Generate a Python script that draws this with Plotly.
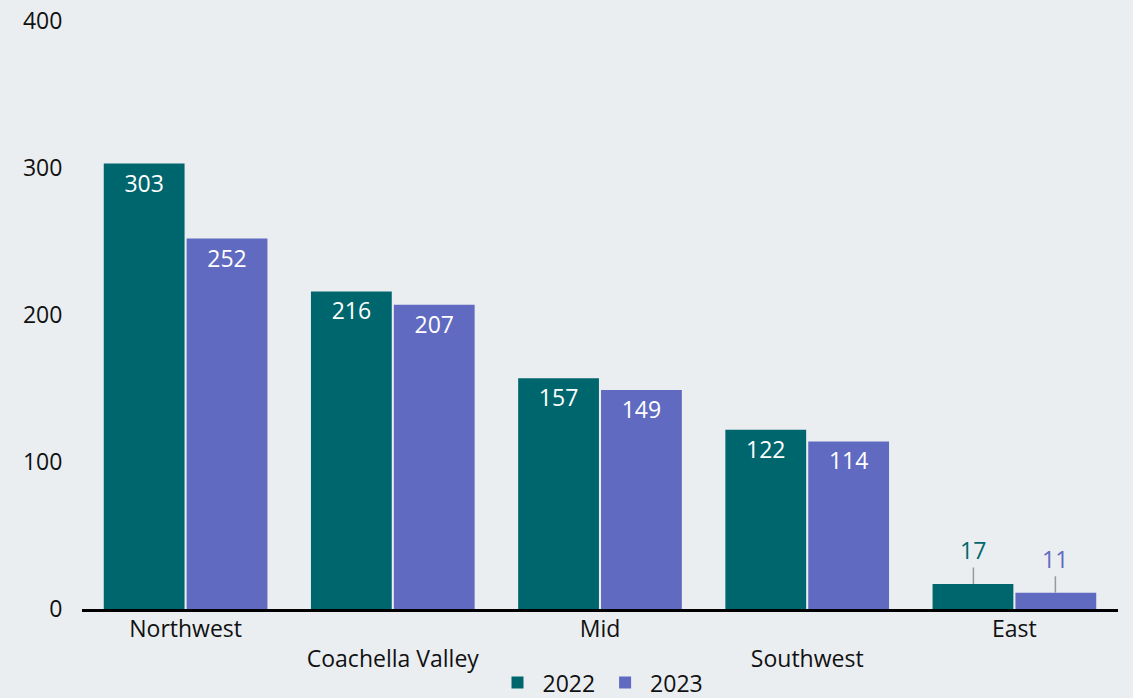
import plotly.graph_objects as go

regions = ["Northwest", "Coachella Valley", "Mid", "Southwest", "East"]
values_2022 = [303, 216, 157, 122, 17]
values_2023 = [252, 207, 149, 114, 11]
series_names = ["2022", "2023"]
y_ticks = [0, 100, 200, 300, 400]

colors = ["#00666e", "#5f6ac0"]
bg = "#eaeef1"
font_family = "Open Sans, Lato, sans-serif"
FS = 23
SMALL = 40  # values below this get an outside leader-line label

# staggered category labels: every second label on a second line
tick_text = [r if i % 2 == 0 else "<br>" + r for i, r in enumerate(regions)]

fig = go.Figure()
for name, vals, col in zip(series_names, [values_2022, values_2023], colors):
    fig.add_trace(go.Bar(
        x=regions, y=vals, name=name, marker=dict(color=col, line=dict(width=0)),
        text=[str(v) if v >= SMALL else "" for v in vals],
        textposition="inside", insidetextanchor="end",
        insidetextfont=dict(color="white", size=FS, family=font_family),
        cliponaxis=False,
    ))

# leader-line labels for small bars
for k, (vals, col) in enumerate(zip([values_2022, values_2023], colors)):
    shift = -41 if k == 0 else 41
    for r, v in zip(regions, vals):
        if v < SMALL:
            fig.add_annotation(
                x=r, y=v, xref="x", yref="y", xshift=shift,
                text=str(v), showarrow=True, arrowhead=0, arrowwidth=1.5,
                arrowcolor="#999999", ax=0, ay=-34, standoff=0,
                font=dict(color=col, size=FS, family=font_family),
            )

fig.update_layout(
    width=1133, height=698,
    paper_bgcolor=bg, plot_bgcolor=bg,
    margin=dict(l=82, r=15, t=21, b=89, autoexpand=False),
    barmode="group", bargap=0.2, bargroupgap=0.025,
    font=dict(family=font_family, size=FS, color="#111111"),
    showlegend=True,
    legend=dict(orientation="h", x=0.53, xanchor="center", xref="container",
                y=0.022, yanchor="middle", yref="container",
                font=dict(size=FS), itemwidth=40, traceorder="normal",
                bgcolor="rgba(0,0,0,0)"),
    xaxis=dict(tickmode="array", tickvals=regions, ticktext=tick_text,
               showline=True, linecolor="black", linewidth=3, showgrid=False,
               ticks="", tickfont=dict(size=FS), automargin=False,
               ticklabelstandoff=-3),
    yaxis=dict(range=[0, 400], tickvals=y_ticks, showgrid=False, zeroline=False,
               showline=False, ticks="outside", ticklen=14, tickcolor="rgba(0,0,0,0)",
               tickfont=dict(size=FS), automargin=False),
)

fig.write_html(
    "out.html",
    config={"displayModeBar": False},
    post_script="document.body.style.margin='0';document.body.style.background='%s';" % bg,
)
